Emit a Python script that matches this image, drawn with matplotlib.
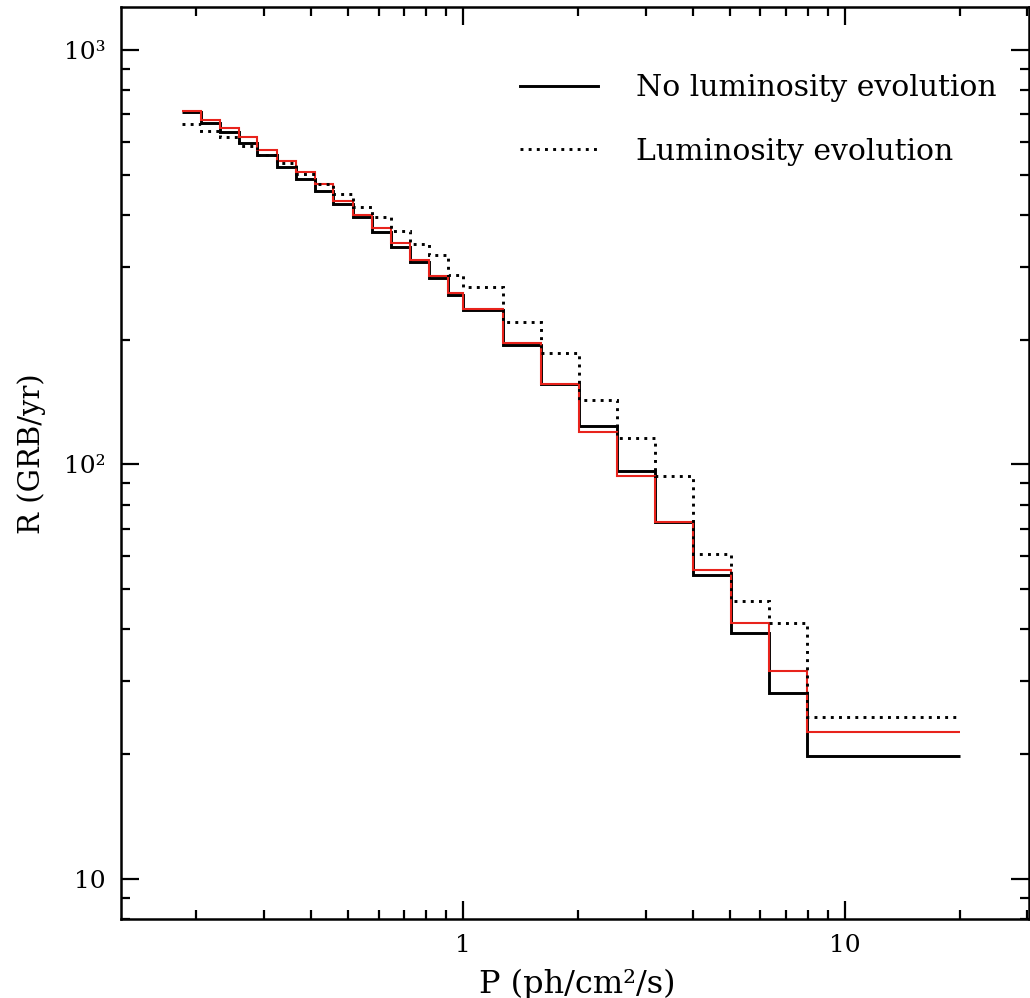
import matplotlib
matplotlib.use("Agg")
import matplotlib.pyplot as plt
from matplotlib.lines import Line2D
from matplotlib.ticker import FixedLocator, FuncFormatter, LogLocator, NullFormatter

plt.rcParams['font.family'] = ['DejaVu Serif']

# bin edges in P (ph/cm2/s)
p_edges = [0.183, 0.206, 0.231, 0.258, 0.289, 0.325, 0.364, 0.409, 0.457, 0.514,
           0.576, 0.646, 0.724, 0.812, 0.911, 1.0, 1.27, 1.60, 2.01, 2.53,
           3.18, 4.0, 5.03, 6.32, 7.96, 20.0]

# rates R (GRB/yr) per bin
r_no_evol = [708, 666, 634, 596, 558, 522, 488, 457, 425, 395, 364, 335, 308, 282, 256,
             236, 194, 156, 124, 96.5, 72.6, 54.1, 39.2, 28.1, 19.8]
r_red = [712, 678, 648, 617, 574, 540, 508, 475, 432, 400, 372, 342, 312, 285, 259,
         237, 196, 156, 120, 93.7, 72.6, 55.6, 41.5, 31.8, 22.6]
r_evol = [664, 638, 615, 587, 558, 534, 502, 475, 449, 418, 395, 366, 340, 320, 287,
          268, 221, 186, 143, 116, 93.7, 60.8, 46.9, 41.5, 24.6]

fig = plt.figure(figsize=(10.30, 9.98), dpi=100)
ax = fig.add_axes([0.1175, 0.0792, 0.8816, 0.9138])

ax.stairs(r_no_evol, p_edges, baseline=None, color='black', linewidth=2.1)
ax.stairs(r_red, p_edges, baseline=None, color='#e8231c', linewidth=1.5)
ax.stairs(r_evol, p_edges, baseline=None, color='black', linewidth=2.1,
          linestyle=(0, (1, 1.8)))

ax.set_xscale('log')
ax.set_yscale('log')
ax.set_xlim(0.127, 30.3)
ax.set_ylim(8.0, 1270)

lab = {1: '1', 10: '10', 100: '10²', 1000: '10³'}
ax.xaxis.set_major_locator(FixedLocator([1, 10]))
ax.yaxis.set_major_locator(FixedLocator([10, 100, 1000]))
ax.xaxis.set_major_formatter(FuncFormatter(lambda v, pos: lab.get(int(round(v)), '')))
ax.yaxis.set_major_formatter(FuncFormatter(lambda v, pos: lab.get(int(round(v)), '')))
ax.xaxis.set_minor_locator(LogLocator(base=10, subs=range(2, 10)))
ax.yaxis.set_minor_locator(LogLocator(base=10, subs=range(2, 10)))
ax.xaxis.set_minor_formatter(NullFormatter())
ax.yaxis.set_minor_formatter(NullFormatter())

ax.tick_params(which='both', direction='in', top=True, right=True, width=1.6,
               labelsize=18, pad=11)
ax.tick_params(which='major', length=13)
ax.tick_params(which='minor', length=6.5)
for s in ax.spines.values():
    s.set_linewidth(1.8)

fig.text(0.031, 1 - 454 / 998, 'R (GRB/yr)', rotation=90, ha='center', va='center', fontsize=21)
fig.text(577 / 1030, 1 - 984 / 998, 'P (ph/cm²/s)', ha='center', va='center', fontsize=23)

handles = [Line2D([], [], color='black', linewidth=2.1),
           Line2D([], [], color='black', linewidth=2.1, linestyle=(0, (1, 1.8)))]
ax.legend(handles, ['No luminosity evolution', 'Luminosity evolution'],
          loc='upper left', bbox_to_anchor=(0.41, 0.956), frameon=False,
          fontsize=21.5, handlelength=2.6, handletextpad=1.27, labelspacing=1.19,
          alignment='left')

fig.savefig('out.png', dpi=100)
